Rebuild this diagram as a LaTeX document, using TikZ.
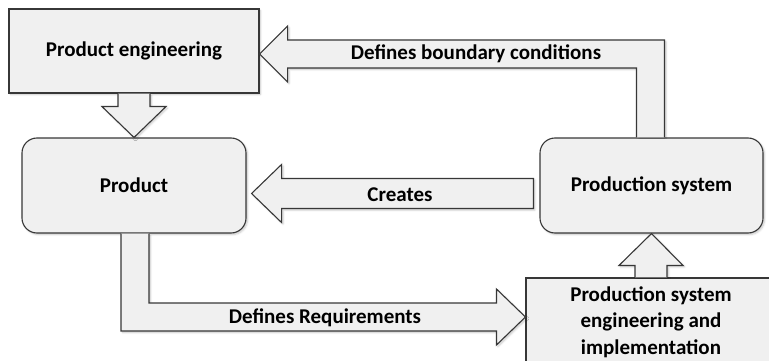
\documentclass[tikz,border=0pt]{standalone}
\usepackage{fontspec}
\setmainfont{Carlito}
\usepackage{tikz}
\usetikzlibrary{calc,shadows.blur}
\definecolor{boxfill}{RGB}{240,240,240}
\definecolor{boxline}{RGB}{55,55,55}

\begin{document}
\begin{tikzpicture}[x=1pt, y=-1pt,
  boxnode/.style={rectangle, draw=boxline, fill=boxfill, line width=1.1pt, align=center, font=\fontsize{21}{26.5}\selectfont\bfseries, blur shadow={shadow xshift=1.5pt, shadow yshift=-1.5pt, shadow blur steps=5, shadow opacity=22}},
  blockarr/.style={draw=boxline, fill=boxfill, line width=1.1pt, line join=miter, blur shadow={shadow xshift=1.5pt, shadow yshift=-1.5pt, shadow blur steps=5, shadow opacity=22}},
  lbl/.style={font=\fontsize{21}{26.5}\selectfont\bfseries, inner sep=0pt}]
\useasboundingbox (0,0) rectangle (769,361);
\clip (0,0) rectangle (769,361);
% Boxes
\node[boxnode, minimum width=250pt, minimum height=84pt] (pe) at (134,51) {Product engineering};
\node[boxnode, rounded corners=15pt, minimum width=224pt, minimum height=95pt] (prod) at (134,185.5) {Product};
\node[boxnode, rounded corners=15pt, minimum width=223pt, minimum height=95pt] (ps) at (651.5,185.5) {Production system};
\node[boxnode, minimum width=250pt, minimum height=88pt] (pse) at (651,322) {Production system\\engineering and\\implementation};
% Free ends of the block arrows
\coordinate (tipbc) at ($(pe.east)+(0,3)$);
\coordinate (tipcr) at ($(prod.east)+(5,8)$);
\coordinate (endcr) at ($(ps.west)+(-6,8)$);
\coordinate (tipreq) at ($(pse.west)+(0,-5)$);
% Product engineering -> Product
\draw[blockarr] ($(pe.south)+(-16,0)$)--($(pe.south)+(-16,13)$)--($(pe.south)+(-32,13)$)--(prod.north)--($(pe.south)+(32,13)$)--($(pe.south)+(16,13)$)--($(pe.south)+(16,0)$);
% Production system -> Product engineering
\draw[blockarr] ($(ps.north)+(-15,0)$)|-($(tipbc)+(28,14)$)--($(tipbc)+(28,28)$)--(tipbc)--($(tipbc)+(28,-28)$)--($(tipbc)+(28,-14)$)-|($(ps.north)+(13,0)$);
% Production system -> Product
\draw[blockarr] ($(endcr)+(0,-15)$)--($(tipcr)+(30,-15)$)--($(tipcr)+(30,-29)$)--(tipcr)--($(tipcr)+(30,29)$)--($(tipcr)+(30,15)$)--($(endcr)+(0,15)$)--cycle;
% Product -> Production system engineering
\draw[blockarr] ($(prod.south)+(-13,0)$)|-($(tipreq)+(-29,14)$)--($(tipreq)+(-29,28)$)--(tipreq)--($(tipreq)+(-29,-28)$)--($(tipreq)+(-29,-14)$)-|($(prod.south)+(15,0)$);
% Production system engineering -> Production system
\draw[blockarr] ($(pse.north)+(-16,0)$)--($(pse.north)+(-16,-12)$)--($(pse.north)+(-32,-12)$)--(ps.south)--($(pse.north)+(32,-12)$)--($(pse.north)+(16,-12)$)--($(pse.north)+(16,0)$);
% Labels
\node[lbl] (lbc) at (476,54) {Defines boundary conditions};
\node[lbl] (lcr) at (400,195) {Creates};
\node[lbl] (lreq) at (325,318) {Defines Requirements};
\end{tikzpicture}
\end{document}
